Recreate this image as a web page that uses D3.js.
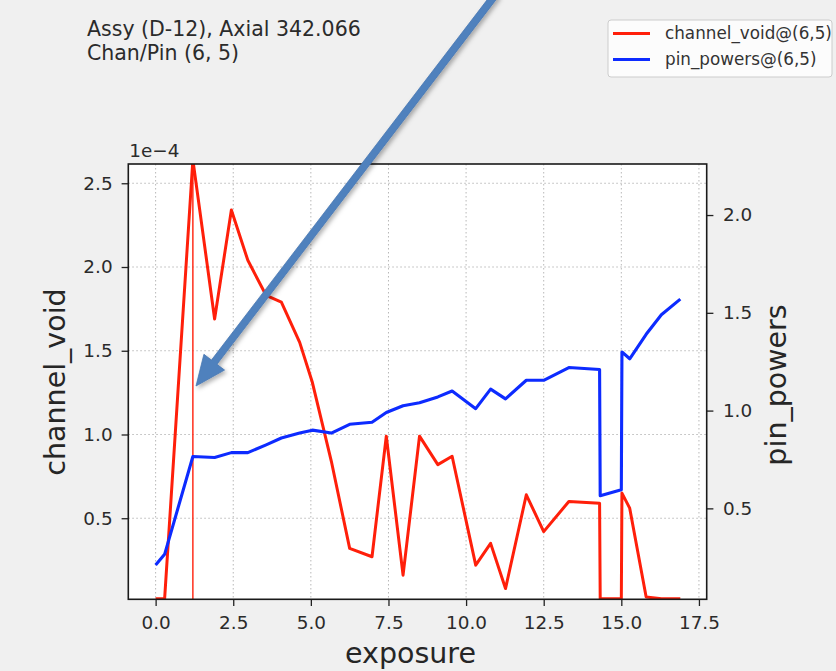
<!DOCTYPE html>
<html>
<head>
<meta charset="utf-8">
<script src="https://cdn.jsdelivr.net/npm/d3@7"></script>
<style>
  body { margin: 0; background: #f0f0f0; }
  svg { display: block; font-family: "DejaVu Sans", sans-serif; }
</style>
</head>
<body>
<svg id="chart" width="836" height="671"></svg>
<script>
"use strict";

// exposure points (x)
var exposure = [0, 0.29, 1.2, 1.9, 2.44, 2.97, 3.56, 4.05, 4.64, 5.05, 5.66, 6.25, 6.97,
  7.43, 7.97, 8.5, 9.09, 9.55, 10.31, 10.79, 11.27, 11.94, 12.5, 13.31, 14.3, 14.32,
  15.0, 15.02, 15.27, 15.8, 16.29, 16.9];
// channel_void, in units of 1e-4
var channelVoid = [0.02, 0.02, 2.64, 1.69, 2.34, 2.04, 1.83, 1.79, 1.55, 1.31, 0.84, 0.32, 0.27,
  0.99, 0.16, 0.99, 0.82, 0.87, 0.22, 0.35, 0.08, 0.64, 0.42, 0.60, 0.59, 0.02,
  0.02, 0.65, 0.56, 0.03, 0.02, 0.02];
var pinPowers = [0.21, 0.265, 0.765, 0.76, 0.785, 0.785, 0.825, 0.86, 0.885, 0.90, 0.885, 0.93, 0.94,
  0.99, 1.025, 1.04, 1.07, 1.10, 1.01, 1.11, 1.06, 1.155, 1.155, 1.22, 1.21, 0.565,
  0.595, 1.30, 1.265, 1.39, 1.49, 1.57];
var markerExposure = 1.2;

var xTicks = [0, 2.5, 5, 7.5, 10, 12.5, 15, 17.5];
var leftTicks = [0.5, 1.0, 1.5, 2.0, 2.5];
var rightTicks = [0.5, 1.0, 1.5, 2.0];
var titleLines = ["Assy (D-12), Axial 342.066", "Chan/Pin (6, 5)"];
var legendLabels = ["channel_void@(6,5)", "pin_powers@(6,5)"];

var RED = "#ff1f0a";
var BLUE = "#0d2bff";

var plotLeft = 128.3, plotRight = 706.7, plotTop = 164, plotBottom = 599.3;

var svg = d3.select("#chart");

var x = d3.scaleLinear().domain([-0.88, 17.75]).range([plotLeft, plotRight]);
var yLeft = d3.scaleLinear().domain([0.016, 2.615]).range([plotBottom, plotTop]);
var yRight = d3.scaleLinear().domain([0.035, 2.261]).range([plotBottom, plotTop]);

svg.append("rect")
  .attr("x", plotLeft).attr("y", plotTop)
  .attr("width", plotRight - plotLeft).attr("height", plotBottom - plotTop)
  .attr("fill", "#ffffff");

svg.append("clipPath").attr("id", "plotClip")
  .append("rect")
  .attr("x", plotLeft).attr("y", plotTop)
  .attr("width", plotRight - plotLeft).attr("height", plotBottom - plotTop);

// grid
var grid = svg.append("g").attr("stroke", "#b8b8b8").attr("stroke-width", 1)
  .attr("stroke-dasharray", "1.5,2.5");
grid.selectAll("line.gx").data(xTicks).enter().append("line")
  .attr("x1", function (d) { return x(d); }).attr("x2", function (d) { return x(d); })
  .attr("y1", plotTop).attr("y2", plotBottom);
grid.selectAll("line.gy").data(leftTicks).enter().append("line")
  .attr("y1", function (d) { return yLeft(d); }).attr("y2", function (d) { return yLeft(d); })
  .attr("x1", plotLeft).attr("x2", plotRight);

// lines
var plot = svg.append("g").attr("clip-path", "url(#plotClip)");

var redLine = d3.line()
  .x(function (d, i) { return x(exposure[i]); })
  .y(function (d) { return yLeft(d); });
var blueLine = d3.line()
  .x(function (d, i) { return x(exposure[i]); })
  .y(function (d) { return yRight(d); });

plot.append("line")
  .attr("x1", x(markerExposure)).attr("x2", x(markerExposure))
  .attr("y1", plotTop).attr("y2", plotBottom)
  .attr("stroke", RED).attr("stroke-width", 1.4);

plot.append("path").datum(channelVoid)
  .attr("d", redLine).attr("fill", "none")
  .attr("stroke", RED).attr("stroke-width", 3).attr("stroke-linejoin", "round");

plot.append("path").datum(pinPowers)
  .attr("d", blueLine).attr("fill", "none")
  .attr("stroke", BLUE).attr("stroke-width", 3.1).attr("stroke-linejoin", "round");

// axes
function styleAxis(g) {
  g.selectAll(".domain").remove();
  g.selectAll(".tick line").attr("stroke", "#222").attr("stroke-width", 1.3);
  g.selectAll(".tick text").attr("fill", "#2b2b2b")
    .style("font-family", "DejaVu Sans").style("font-size", "18.4px");
}

svg.append("g")
  .attr("transform", "translate(0," + plotBottom + ")")
  .call(d3.axisBottom(x).tickValues(xTicks).tickFormat(d3.format(".1f")).tickSize(6.7).tickPadding(10))
  .call(styleAxis);

svg.append("g")
  .attr("transform", "translate(" + plotLeft + ",0)")
  .call(d3.axisLeft(yLeft).tickValues(leftTicks).tickFormat(d3.format(".1f")).tickSize(6.7).tickPadding(9))
  .call(styleAxis);

svg.append("g")
  .attr("transform", "translate(" + plotRight + ",0)")
  .call(d3.axisRight(yRight).tickValues(rightTicks).tickFormat(d3.format(".1f")).tickSize(6.7).tickPadding(9.5))
  .call(styleAxis);

// frame
svg.append("rect")
  .attr("x", plotLeft).attr("y", plotTop)
  .attr("width", plotRight - plotLeft).attr("height", plotBottom - plotTop)
  .attr("fill", "none").attr("stroke", "#1a1a1a").attr("stroke-width", 1.6);

// offset label
svg.append("text")
  .attr("x", plotLeft + 1).attr("y", 157)
  .attr("fill", "#2b2b2b").style("font-size", "18.4px")
  .text("1e\u22124");

// axis labels
svg.append("text")
  .attr("x", (plotLeft + plotRight) / 2 - 7).attr("y", 663)
  .attr("text-anchor", "middle").attr("fill", "#262626").style("font-size", "28.5px")
  .text("exposure");

svg.append("text")
  .attr("transform", "translate(65,382) rotate(-90)")
  .attr("text-anchor", "middle").attr("fill", "#262626").style("font-size", "28.5px")
  .text("channel_void");

svg.append("text")
  .attr("transform", "translate(786,385) rotate(-90)")
  .attr("text-anchor", "middle").attr("fill", "#262626").style("font-size", "28.5px")
  .text("pin_powers");

// title
svg.selectAll("text.title").data(titleLines).enter().append("text")
  .attr("class", "title")
  .attr("x", 87).attr("y", function (d, i) { return 36 + i * 24; })
  .attr("fill", "#2b2b2b").style("font-size", "20.5px")
  .text(function (d) { return d; });

// legend
var legend = svg.append("g");
legend.append("rect")
  .attr("x", 608).attr("y", 20).attr("width", 224).attr("height", 57).attr("rx", 3)
  .attr("fill", "#ffffff").attr("fill-opacity", 0.8).attr("stroke", "#cccccc");
var legendColors = [RED, BLUE];
var items = legend.selectAll("g.item").data(legendLabels).enter().append("g")
  .attr("transform", function (d, i) { return "translate(0," + (33.5 + i * 26) + ")"; });
items.append("line")
  .attr("x1", 613).attr("x2", 650).attr("y1", 0).attr("y2", 0)
  .attr("stroke", function (d, i) { return legendColors[i]; }).attr("stroke-width", 2.8);
items.append("text")
  .attr("x", 665).attr("y", 5.5)
  .attr("fill", "#333333").style("font-size", "16.8px")
  .text(function (d) { return d; });

// annotation arrow
var defs = svg.append("defs");
var shadow = defs.append("filter").attr("id", "shadow")
  .attr("x", "-20%").attr("y", "-20%").attr("width", "140%").attr("height", "140%");
shadow.append("feDropShadow").attr("dx", 2).attr("dy", 2.5).attr("stdDeviation", 2)
  .attr("flood-color", "#000").attr("flood-opacity", 0.3);

var start = [496, -6], tip = [196, 386];
var dx = tip[0] - start[0], dy = tip[1] - start[1];
var len = Math.sqrt(dx * dx + dy * dy);
var ux = dx / len, uy = dy / len, nx = -uy, ny = ux;
var headLen = 30, headHalf = 13, shaftHalf = 3.5;
var bx = tip[0] - ux * headLen, by = tip[1] - uy * headLen;
var arrowPts = [
  [start[0] + nx * shaftHalf, start[1] + ny * shaftHalf],
  [bx + nx * shaftHalf, by + ny * shaftHalf],
  [bx + nx * headHalf, by + ny * headHalf],
  tip,
  [bx - nx * headHalf, by - ny * headHalf],
  [bx - nx * shaftHalf, by - ny * shaftHalf],
  [start[0] - nx * shaftHalf, start[1] - ny * shaftHalf]
];
svg.append("path")
  .attr("d", "M" + arrowPts.map(function (p) { return p.join(","); }).join("L") + "Z")
  .attr("fill", "#4f81bd").attr("stroke", "#4a78b2").attr("stroke-width", 0.8)
  .attr("filter", "url(#shadow)");
</script>
</body>
</html>
